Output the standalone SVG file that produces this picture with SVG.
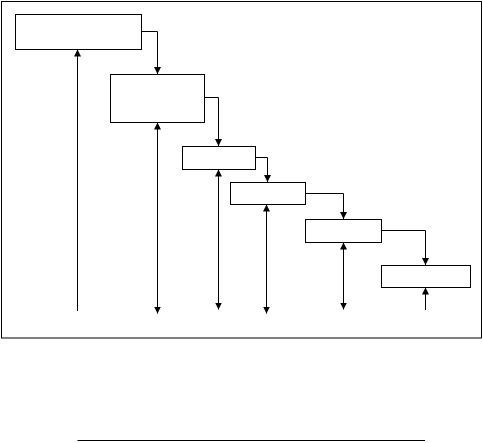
<svg xmlns="http://www.w3.org/2000/svg" width="483" height="443" viewBox="0 0 483 443">
<style>
.box{fill:#fff;stroke:#000;stroke-width:1}
.ln{fill:none;stroke:#000;stroke-width:1}
</style>
<defs>
<marker id="ah" markerUnits="userSpaceOnUse" markerWidth="8" markerHeight="8" refX="7" refY="3.5" orient="auto-start-reverse">
<path d="M0,0 L7,3.5 L0,7 z" fill="#000"/>
</marker>
</defs>
<rect x="1.5" y="1.5" width="480" height="336.5" fill="#fff" stroke="#000" stroke-width="1"/>
<g id="connectors">
<path class="ln" d="M141,31.5 H157.5 V74" marker-end="url(#ah)"/>
<path class="ln" d="M204,97.5 H218.5 V146" marker-end="url(#ah)"/>
<path class="ln" d="M255,157.5 H267.5 V182" marker-end="url(#ah)"/>
<path class="ln" d="M305,193.5 H343.5 V219" marker-end="url(#ah)"/>
<path class="ln" d="M381,230.5 H425.5 V265" marker-end="url(#ah)"/>
<path class="ln" d="M77.5,311 V49.5" marker-end="url(#ah)"/>
<path class="ln" d="M157.5,122.5 V313.5" marker-start="url(#ah)" marker-end="url(#ah)"/>
<path class="ln" d="M218.5,169.5 V309.5" marker-start="url(#ah)" marker-end="url(#ah)"/>
<path class="ln" d="M266.5,204.5 V313.5" marker-start="url(#ah)" marker-end="url(#ah)"/>
<path class="ln" d="M343.5,242.5 V309.5" marker-start="url(#ah)" marker-end="url(#ah)"/>
<path class="ln" d="M425.5,310 V287.5" marker-end="url(#ah)"/>
</g>
<g id="n1"><rect class="box" x="15.5" y="14.5" width="126" height="35"/></g>
<g id="n2"><rect class="box" x="110.5" y="74.5" width="94" height="48"/></g>
<g id="n3"><rect class="box" x="182.5" y="146.5" width="73" height="23"/></g>
<g id="n4"><rect class="box" x="230.5" y="182.5" width="75" height="22"/></g>
<g id="n5"><rect class="box" x="305.5" y="219.5" width="76" height="23"/></g>
<g id="n6"><rect class="box" x="381.5" y="265.5" width="89" height="22"/></g>
<line class="ln" x1="77.5" y1="440.5" x2="425" y2="440.5"/>
</svg>
